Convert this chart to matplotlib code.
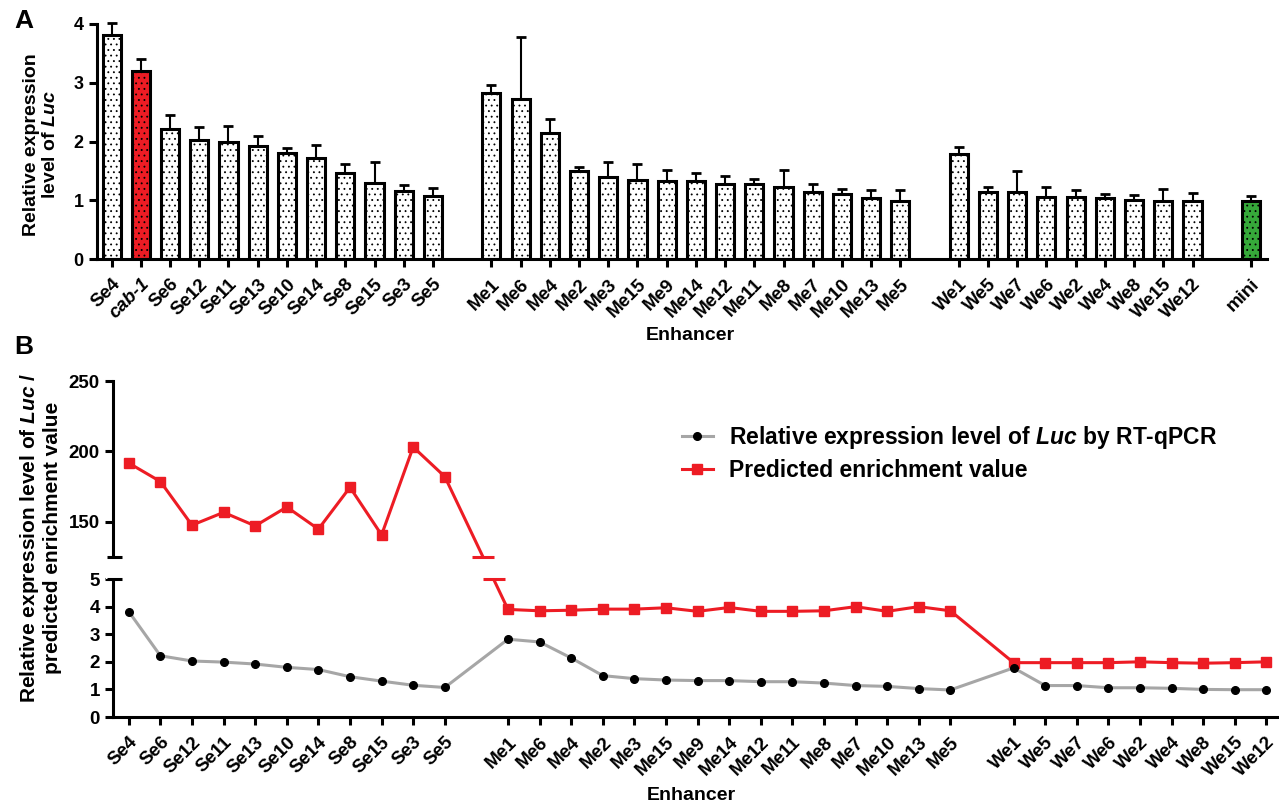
import numpy as np
import matplotlib
matplotlib.use('Agg')
import matplotlib.pyplot as plt
from matplotlib import transforms as mtransforms
from matplotlib.patches import Rectangle

plt.rcParams['font.family'] = ['Liberation Sans', 'DejaVu Sans']
plt.rcParams['font.weight'] = 'bold'
plt.rcParams['mathtext.fontset'] = 'custom'
plt.rcParams['mathtext.it'] = 'Liberation Sans:italic:bold'
plt.rcParams['mathtext.rm'] = 'Liberation Sans:bold'
plt.rcParams['mathtext.bf'] = 'Liberation Sans:bold'
plt.rcParams['hatch.linewidth'] = 0.6

# ---------------- Panel A data ----------------
se_labels = ['Se4', 'cab-1', 'Se6', 'Se12', 'Se11', 'Se13', 'Se10', 'Se14', 'Se8', 'Se15', 'Se3', 'Se5']
se_values = [3.82, 3.20, 2.22, 2.03, 1.99, 1.92, 1.80, 1.72, 1.46, 1.30, 1.15, 1.07]
se_errors = [0.19, 0.20, 0.23, 0.22, 0.28, 0.18, 0.09, 0.22, 0.15, 0.35, 0.11, 0.14]

me_labels = ['Me1', 'Me6', 'Me4', 'Me2', 'Me3', 'Me15', 'Me9', 'Me14', 'Me12', 'Me11', 'Me8', 'Me7', 'Me10', 'Me13', 'Me5']
me_values = [2.82, 2.72, 2.14, 1.50, 1.39, 1.34, 1.32, 1.32, 1.28, 1.28, 1.23, 1.14, 1.11, 1.03, 0.98]
me_errors = [0.14, 1.06, 0.24, 0.07, 0.26, 0.27, 0.19, 0.15, 0.13, 0.08, 0.29, 0.14, 0.08, 0.14, 0.19]

we_labels = ['We1', 'We5', 'We7', 'We6', 'We2', 'We4', 'We8', 'We15', 'We12']
we_values = [1.78, 1.14, 1.14, 1.06, 1.06, 1.04, 1.00, 0.99, 0.99]
we_errors = [0.13, 0.09, 0.36, 0.17, 0.11, 0.07, 0.09, 0.20, 0.14]

mini_labels = ['mini']
mini_values = [0.98]
mini_errors = [0.09]

# ---------------- Panel B data ----------------
b_se_labels = ['Se4', 'Se6', 'Se12', 'Se11', 'Se13', 'Se10', 'Se14', 'Se8', 'Se15', 'Se3', 'Se5']
b_se_predicted = [191.7, 178.6, 147.6, 156.7, 147.1, 160.5, 144.8, 174.5, 140.7, 203.1, 182.1]
b_me_predicted = [3.90, 3.85, 3.87, 3.91, 3.91, 3.96, 3.83, 3.97, 3.83, 3.83, 3.85, 4.00, 3.83, 4.00, 3.85]
b_we_predicted = [1.97, 1.97, 1.97, 1.97, 2.00, 1.97, 1.95, 1.97, 2.00]

RED = '#ED1C24'
GREEN = '#36A93A'
GREY = '#A6A6A6'

W, H = 1279, 806
fig = plt.figure(figsize=(W / 100, H / 100), dpi=100)


def fx(px):
    return px / W


def fy(py):
    return 1 - py / H


def positions(groups, gap=1):
    pos, start = [], 0
    for n in groups:
        pos.append(np.arange(start, start + n))
        start += n + gap
    return pos


# ================= Panel A =================
axA = fig.add_axes([fx(97), fy(259), fx(1267) - fx(97), fy(24) - fy(259)])
groupsA = [(se_labels, se_values, se_errors), (me_labels, me_values, me_errors),
           (we_labels, we_values, we_errors), (mini_labels, mini_values, mini_errors)]
posA = positions([len(g[0]) for g in groupsA])
all_pos, all_labels = [], []
for (labs, vals, errs), p in zip(groupsA, posA):
    colors = []
    for lab in labs:
        if lab == 'cab-1':
            colors.append(RED)
        elif lab == 'mini':
            colors.append(GREEN)
        else:
            colors.append('white')
    axA.bar(p, vals, width=0.62, color=colors, edgecolor='black', linewidth=2.2,
            hatch='...', zorder=2)
    axA.errorbar(p, vals, yerr=[np.zeros(len(vals)), errs], fmt='none', ecolor='black',
                 elinewidth=1.5, capsize=3.4, capthick=2, zorder=1, clip_on=False)
    all_pos.extend(p)
    all_labels.extend(labs)

axA.set_xlim(-0.5, 39.55)
axA.set_ylim(0, 4)
axA.set_yticks([0, 1, 2, 3, 4])
axA.set_xticks(all_pos)
axA.set_xticklabels(all_labels, rotation=45, ha='right', va='top', rotation_mode='anchor',
                    fontsize=13.5, fontweight='bold')
for t in axA.get_xticklabels():
    if t.get_text() == 'cab-1':
        t.set_style('italic')
for t in axA.get_yticklabels():
    t.set_fontsize(13)
    t.set_fontweight('bold')
for s in ['top', 'right']:
    axA.spines[s].set_visible(False)
for s in ['left', 'bottom']:
    axA.spines[s].set_linewidth(2.2)
axA.tick_params(axis='both', direction='out', length=6, width=2.2)
axA.tick_params(axis='x', pad=6)
axA.set_ylabel('Relative expression\nlevel of $\\mathit{Luc}$', fontsize=14, fontweight='bold',
               va='center', ha='center', linespacing=1.15)
axA.yaxis.set_label_coords(fx(41), fy(145), transform=fig.transFigure)
axA.set_xlabel('Enhancer', fontsize=14, fontweight='bold', va='center', ha='center')
axA.xaxis.set_label_coords(fx(690), fy(336), transform=fig.transFigure)

# ================= Panel B =================
LOW_TOP, HIGH_BOT, HIGH_TOP = 5.0, 125.0, 250.0
GAP = 0.8
K = 6.38 / 125.0


def fwd(y):
    y = np.asarray(y, dtype=float)
    return np.where(y <= LOW_TOP, y,
                    np.where(y >= HIGH_BOT, LOW_TOP + GAP + (y - HIGH_BOT) * K,
                             LOW_TOP + (y - LOW_TOP) * GAP / (HIGH_BOT - LOW_TOP)))


def inv(d):
    d = np.asarray(d, dtype=float)
    return np.where(d <= LOW_TOP, d,
                    np.where(d >= LOW_TOP + GAP, HIGH_BOT + (d - LOW_TOP - GAP) / K,
                             LOW_TOP + (d - LOW_TOP) * (HIGH_BOT - LOW_TOP) / GAP))


axB = fig.add_axes([fx(113), fy(717), 1.0 - fx(113), fy(381) - fy(717)])
axB.set_yscale('function', functions=(fwd, inv))

lookup = dict(zip(se_labels + me_labels + we_labels, se_values + me_values + we_values))
groupsB = [b_se_labels, me_labels, we_labels]
posB = positions([len(g) for g in groupsB])
xB = np.concatenate(posB)
labelsB = b_se_labels + me_labels + we_labels
expr = np.array([lookup[l] for l in labelsB])
pred = np.array(b_se_predicted + b_me_predicted + b_we_predicted)

axB.plot(xB, expr, color=GREY, lw=2.2, marker='o', ms=5.5, mfc='black', mec='black', zorder=4,
         label='Relative expression level of $\\mathit{Luc}$ by RT-qPCR')
axB.plot(xB, pred, color=RED, lw=2.2, marker='s', ms=7.5, mfc=RED, mec=RED, zorder=2,
         label='Predicted enrichment value')

axB.set_xlim(-0.5, 36.4)
axB.set_ylim(0, HIGH_TOP)
axB.set_yticks([0, 1, 2, 3, 4, 5, 150, 200, 250])
axB.set_yticklabels(['0', '1', '2', '3', '4', '5', '150', '200', '250'])
axB.set_xticks(xB)
axB.set_xticklabels(labelsB, rotation=45, ha='right', va='top', rotation_mode='anchor',
                    fontsize=13.5, fontweight='bold')
for t in axB.get_yticklabels():
    t.set_fontsize(13.5)
    t.set_fontweight('bold')
for s in ['top', 'right']:
    axB.spines[s].set_visible(False)
for s in ['left', 'bottom']:
    axB.spines[s].set_linewidth(2.2)
axB.tick_params(axis='both', direction='out', length=6, width=2.2)
axB.tick_params(axis='x', pad=6)
axB.minorticks_off()

blend = mtransforms.blended_transform_factory(axB.transAxes, axB.transData)
# white gap across the broken axis
axB.add_patch(Rectangle((-0.006, LOW_TOP), 1.006, HIGH_BOT - LOW_TOP, transform=blend,
                        facecolor='white', edgecolor='none', zorder=3, clip_on=False))
# break marks on the y spine
for lev in (LOW_TOP, HIGH_BOT):
    axB.plot([-0.0052, 0.0078], [lev, lev], transform=blend, color='black', lw=2.2,
             solid_capstyle='butt', clip_on=False, zorder=5)

# break marks where the predicted line crosses the gap
i0 = len(b_se_labels) - 1
x0, x1 = xB[i0], xB[i0 + 1]
f0, f1 = fwd(pred[i0]), fwd(pred[i0 + 1])
for lev in (HIGH_BOT, LOW_TOP):
    t = (fwd(lev) - f0) / (f1 - f0)
    xc = x0 + t * (x1 - x0)
    axB.plot([xc], [lev], marker='_', ms=16, mew=2.2, color=RED, zorder=5, clip_on=False)

axB.set_ylabel('Relative expression level of $\\mathit{Luc}$ /\npredicted enrichment value',
               fontsize=15, fontweight='bold', va='center', ha='center', linespacing=1.1)
axB.yaxis.set_label_coords(fx(40), fy(538), transform=fig.transFigure)
axB.set_xlabel('Enhancer', fontsize=14, fontweight='bold', va='center', ha='center')
axB.xaxis.set_label_coords(fx(691), fy(795), transform=fig.transFigure)

leg = axB.legend(loc='upper left', bbox_to_anchor=(fx(682), fy(424)), bbox_transform=fig.transFigure,
                 frameon=False, fontsize=16.5, handlelength=1.35, handletextpad=0.7,
                 borderpad=0, borderaxespad=0, labelspacing=0.35)
for txt in leg.get_texts():
    txt.set_fontweight('bold')

fig.text(fx(24), fy(21), 'A', fontsize=19, fontweight='bold', ha='center', va='center')
fig.text(fx(24), fy(347), 'B', fontsize=19, fontweight='bold', ha='center', va='center')

fig.savefig('out.png', dpi=100)
